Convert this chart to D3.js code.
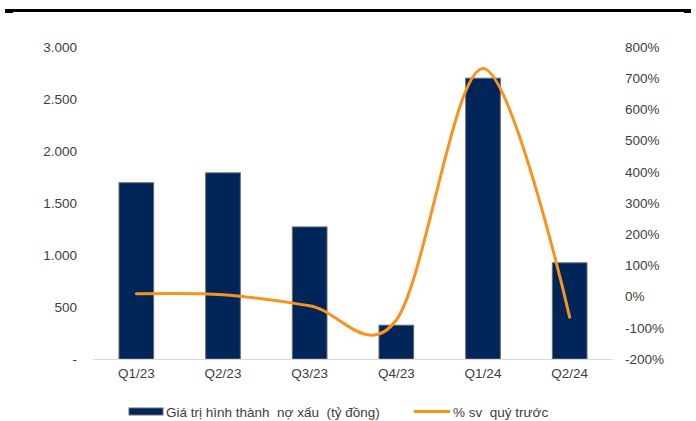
<!DOCTYPE html>
<html>
<head>
<meta charset="utf-8">
<script src="https://cdn.jsdelivr.net/npm/d3@7"></script>
<style>
  html, body { margin: 0; padding: 0; background: #fff; }
  svg { display: block; font-family: "Liberation Sans", Arial, sans-serif; }
</style>
</head>
<body>
<svg id="chart" width="696" height="421"></svg>
<script>
// Quarterly data
const quarters = ["Q1/23", "Q2/23", "Q3/23", "Q4/23", "Q1/24", "Q2/24"];
const npl = [1695, 1790, 1270, 325, 2700, 925];          // tỷ đồng
const qoq = [9, 6, -29, -75, 731, -66];                  // % so với quý trước
const leftTicks = [0, 500, 1000, 1500, 2000, 2500, 3000];
const rightTicks = [-200, -100, 0, 100, 200, 300, 400, 500, 600, 700, 800];
const barLabel = "Giá trị hình thành  nợ xấu  (tỷ đồng)";
const lineLabel = "% sv  quý trước";

const svg = d3.select("#chart");
const textColor = "#404040";
const barFill = "#002659";
const lineColor = "#F7931E";

const x = d3.scaleBand().domain(quarters).range([93, 613]).paddingInner(0.6).paddingOuter(0.3);
const yL = d3.scaleLinear().domain([0, 3000]).range([359, 47]);
const yR = d3.scaleLinear().domain([-200, 800]).range([359, 47]);

// top rule
svg.append("rect").attr("x", 5).attr("y", 9).attr("width", 686).attr("height", 3).attr("fill", "#000");
svg.append("rect").attr("x", 5).attr("y", 9).attr("width", 8).attr("height", 4).attr("fill", "#000");
svg.append("rect").attr("x", 684).attr("y", 9).attr("width", 7).attr("height", 4).attr("fill", "#000");

const loc = d3.formatLocale({ decimal: ",", thousands: ".", grouping: [3], currency: ["", ""] });
const fmtL = v => v === 0 ? "-" : loc.format(",")(v);

// left axis
const gL = svg.append("g").attr("transform", "translate(77,0)")
  .call(d3.axisLeft(yL).tickValues(leftTicks).tickFormat(fmtL).tickSize(0).tickPadding(0));
gL.select(".domain").remove();
gL.selectAll("text").attr("fill", textColor).style("font-size", "13.5px").style("font-family", "Liberation Sans, Arial, sans-serif");

// right axis
const gR = svg.append("g").attr("transform", "translate(625,0)")
  .call(d3.axisRight(yR).tickValues(rightTicks).tickFormat(d => d + "%").tickSize(0).tickPadding(0));
gR.select(".domain").remove();
gR.selectAll("text").attr("fill", textColor).style("font-size", "13.5px").style("font-family", "Liberation Sans, Arial, sans-serif");

// bars
svg.append("g").selectAll("rect").data(npl).join("rect")
  .attr("x", (d, i) => x(quarters[i]))
  .attr("y", d => yL(d))
  .attr("width", x.bandwidth())
  .attr("height", d => yL(0) - yL(d))
  .attr("fill", barFill)
  .attr("stroke", "#6b6b6b")
  .attr("stroke-width", 1);

// category axis line
svg.append("line").attr("x1", 93).attr("x2", 613).attr("y1", 359.5).attr("y2", 359.5)
  .attr("stroke", "#d9d9d9").attr("stroke-width", 1);

// x labels
const gX = svg.append("g").attr("transform", "translate(0,368)")
  .call(d3.axisBottom(x).tickSize(0).tickPadding(0));
gX.select(".domain").remove();
gX.selectAll("text").attr("fill", textColor).attr("dy", "0.75em").style("font-size", "13.5px").style("font-family", "Liberation Sans, Arial, sans-serif");

// smoothed % line
const line = d3.line()
  .x((d, i) => x(quarters[i]) + x.bandwidth() / 2)
  .y(d => yR(d))
  .curve(d3.curveCardinal.tension(0));
svg.append("path").datum(qoq).attr("d", line)
  .attr("fill", "none").attr("stroke", lineColor).attr("stroke-width", 3).attr("stroke-linecap", "round");

// legend
const lg = svg.append("g");
lg.append("rect").attr("x", 129).attr("y", 408).attr("width", 34).attr("height", 7)
  .attr("fill", barFill).attr("stroke", "#6b6b6b").attr("stroke-width", 1);
lg.append("text").attr("x", 166).attr("y", 416.5).text(barLabel)
  .attr("fill", textColor).style("font-size", "13.5px").style("white-space", "pre");
lg.append("line").attr("x1", 414).attr("x2", 450).attr("y1", 411.5).attr("y2", 411.5)
  .attr("stroke", lineColor).attr("stroke-width", 3);
lg.append("text").attr("x", 453).attr("y", 416.5).text(lineLabel)
  .attr("fill", textColor).style("font-size", "13.5px").style("white-space", "pre");
</script>
</body>
</html>
